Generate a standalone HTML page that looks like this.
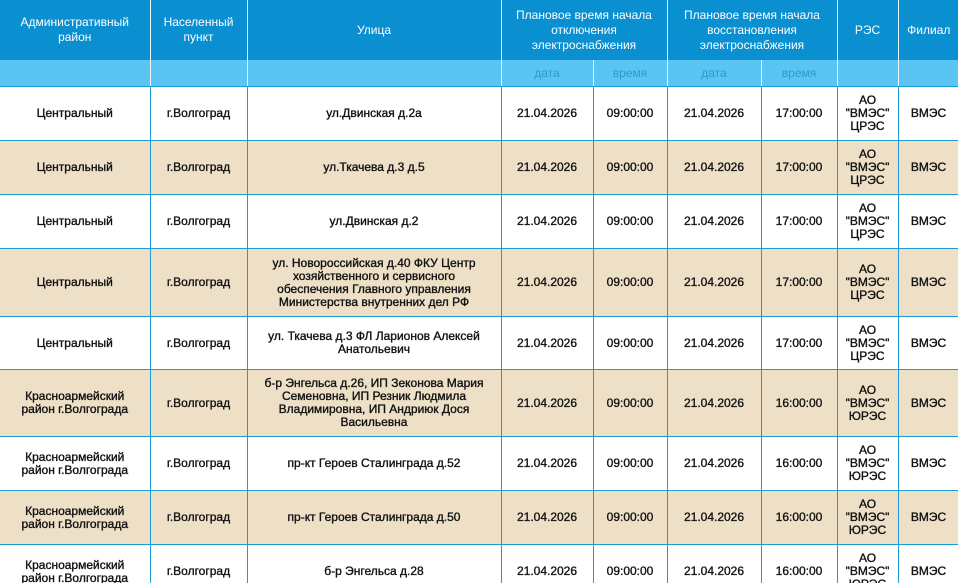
<!DOCTYPE html>
<html><head><meta charset="utf-8"><style>
html,body{margin:0;padding:0;background:#fff;width:958px;height:583px;overflow:hidden}
table{border-collapse:collapse;table-layout:fixed;width:959px;font-family:"Liberation Sans","Noto Sans CJK SC",sans-serif;font-size:12px;color:#111}
td,th{text-align:center;vertical-align:middle;padding:0 4px;line-height:13px}
tbody td{-webkit-text-stroke:0.35px #111}
th{font-weight:normal;color:#fff;background:#0a8fd1;border-left:1px solid #e8f6fd;height:60px;line-height:15px}
tr.sub td{background:#5ac5f2;color:#2f98cf;height:26px;border-left:1px solid #e8f6fd;border-bottom:1px solid #1d9ad8}
tbody td{border:1px solid #1d9ad8}
tbody td:nth-child(1){padding:0 14px}
tbody td:nth-child(3){padding:0 14px}
tr.b td{background:#eee0c6}
th:first-child,tr.sub td:first-child{border-left:none}
tbody td:first-child{border-left:none}
</style></head><body>
<table>
<colgroup><col style="width:150px"><col style="width:97px"><col style="width:254px"><col style="width:92px"><col style="width:74px"><col style="width:94px"><col style="width:76px"><col style="width:61px"><col style="width:61px"></colgroup>
<thead>
<tr>
<th>Административный район</th>
<th>Населенный пункт</th>
<th>Улица</th>
<th colspan="2">Плановое время начала отключения электроснабжения</th>
<th colspan="2">Плановое время начала восстановления электроснабжения</th>
<th>РЭС</th>
<th>Филиал</th>
</tr>
<tr class="sub">
<td></td><td></td><td></td>
<td>дата</td>
<td>время</td>
<td>дата</td>
<td>время</td>
<td></td><td></td>
</tr>
</thead>
<tbody>
<tr style="height:54px"><td>Центральный</td><td>г.Волгоград</td><td>ул.Двинская д.2а</td><td>21.04.2026</td><td>09:00:00</td><td>21.04.2026</td><td>17:00:00</td><td>АО "ВМЭС" ЦРЭС</td><td>ВМЭС</td></tr>
<tr class="b" style="height:54px"><td>Центральный</td><td>г.Волгоград</td><td>ул.Ткачева д.3 д.5</td><td>21.04.2026</td><td>09:00:00</td><td>21.04.2026</td><td>17:00:00</td><td>АО "ВМЭС" ЦРЭС</td><td>ВМЭС</td></tr>
<tr style="height:54px"><td>Центральный</td><td>г.Волгоград</td><td>ул.Двинская д.2</td><td>21.04.2026</td><td>09:00:00</td><td>21.04.2026</td><td>17:00:00</td><td>АО "ВМЭС" ЦРЭС</td><td>ВМЭС</td></tr>
<tr class="b" style="height:68px"><td>Центральный</td><td>г.Волгоград</td><td>ул. Новороссийская д.40 ФКУ Центр хозяйственного и сервисного обеспечения Главного управления Министерства внутренних дел РФ</td><td>21.04.2026</td><td>09:00:00</td><td>21.04.2026</td><td>17:00:00</td><td>АО "ВМЭС" ЦРЭС</td><td>ВМЭС</td></tr>
<tr style="height:53px"><td>Центральный</td><td>г.Волгоград</td><td>ул. Ткачева д.3 ФЛ Ларионов Алексей Анатольевич</td><td>21.04.2026</td><td>09:00:00</td><td>21.04.2026</td><td>17:00:00</td><td>АО "ВМЭС" ЦРЭС</td><td>ВМЭС</td></tr>
<tr class="b" style="height:67px"><td>Красноармейский район г.Волгограда</td><td>г.Волгоград</td><td>б-р Энгельса д.26, ИП Зеконова Мария Семеновна, ИП Резник Людмила Владимировна, ИП Андриюк Дося Васильевна</td><td>21.04.2026</td><td>09:00:00</td><td>21.04.2026</td><td>16:00:00</td><td>АО "ВМЭС" ЮРЭС</td><td>ВМЭС</td></tr>
<tr style="height:54px"><td>Красноармейский район г.Волгограда</td><td>г.Волгоград</td><td>пр-кт Героев Сталинграда д.52</td><td>21.04.2026</td><td>09:00:00</td><td>21.04.2026</td><td>16:00:00</td><td>АО "ВМЭС" ЮРЭС</td><td>ВМЭС</td></tr>
<tr class="b" style="height:54px"><td>Красноармейский район г.Волгограда</td><td>г.Волгоград</td><td>пр-кт Героев Сталинграда д.50</td><td>21.04.2026</td><td>09:00:00</td><td>21.04.2026</td><td>16:00:00</td><td>АО "ВМЭС" ЮРЭС</td><td>ВМЭС</td></tr>
<tr style="height:54px"><td>Красноармейский район г.Волгограда</td><td>г.Волгоград</td><td>б-р Энгельса д.28</td><td>21.04.2026</td><td>09:00:00</td><td>21.04.2026</td><td>16:00:00</td><td>АО "ВМЭС" ЮРЭС</td><td>ВМЭС</td></tr>
</tbody>
</table>
</body></html>
